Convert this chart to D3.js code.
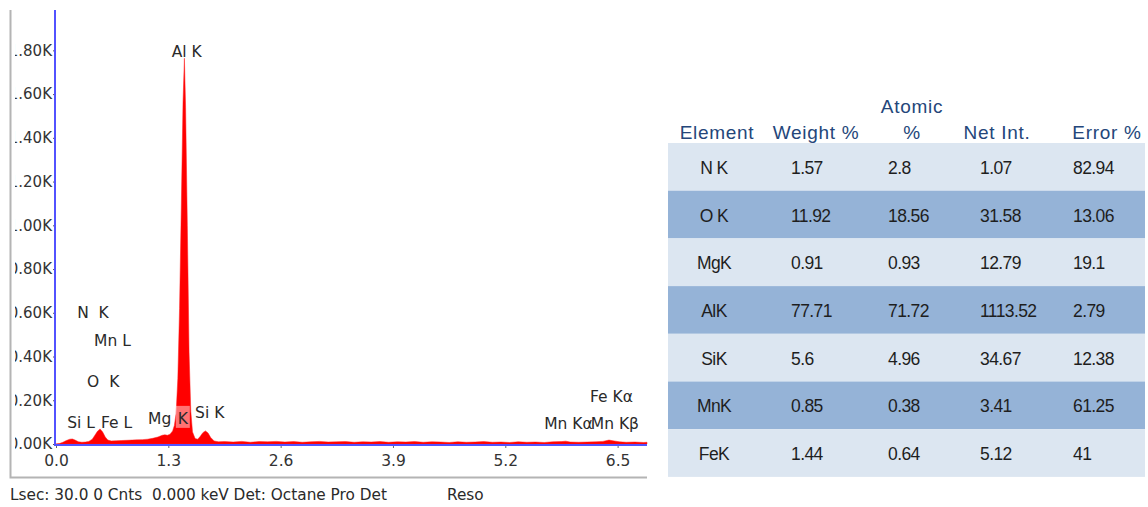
<!DOCTYPE html>
<html>
<head>
<meta charset="utf-8">
<script src="https://cdn.jsdelivr.net/npm/d3@7/dist/d3.min.js"></script>
<style>
  html, body { margin: 0; padding: 0; background: #fff; }
  svg { display: block; }
</style>
</head>
<body>
<svg id="chart" width="1148" height="507"></svg>
<script>
// EDS spectrum: energy (keV) and counts
const energy = [
  0.00, 0.04, 0.08, 0.12, 0.16, 0.19, 0.22, 0.26, 0.30, 0.34, 0.38, 0.42, 0.45, 0.48, 0.51,
  0.54, 0.57, 0.60, 0.64, 0.70, 0.76, 0.82, 0.88, 0.94, 1.00, 1.06, 1.12, 1.18, 1.23, 1.26,
  1.29, 1.32, 1.35, 1.37, 1.39, 1.41, 1.43, 1.45, 1.47, 1.486, 1.50, 1.52, 1.54, 1.56, 1.58,
  1.61, 1.64, 1.67, 1.70, 1.73, 1.76, 1.79, 1.83, 1.88, 1.95, 2.05, 2.15, 2.25, 2.35, 2.45,
  2.55, 2.65, 2.75, 2.85, 2.95, 3.05, 3.15, 3.25, 3.35, 3.45, 3.55, 3.65, 3.75, 3.85, 3.95,
  4.05, 4.15, 4.25, 4.35, 4.45, 4.55, 4.65, 4.75, 4.85, 4.95, 5.05, 5.15, 5.25, 5.35, 5.45,
  5.55, 5.65, 5.75, 5.85, 5.90, 5.95, 6.05, 6.15, 6.25, 6.33, 6.40, 6.46, 6.52, 6.60, 6.70,
  6.80, 6.84
];
const counts = [
  0, 2, 8, 16, 22, 23, 18, 10, 8, 9, 12, 22, 40, 58, 69,
  55, 32, 18, 14, 15, 16, 17, 18, 19, 20, 22, 26, 32, 40, 42,
  40, 45, 60, 85, 140, 300, 620, 1080, 1560, 1764, 1540, 1000, 420, 150, 55,
  25, 22, 35, 52, 60, 50, 30, 14, 10, 11, 9, 12, 8, 11, 10,
  12, 9, 11, 8, 10, 12, 9, 10, 11, 8, 10, 9, 11, 8, 10,
  9, 11, 8, 10, 9, 7, 10, 8, 9, 11, 8, 9, 7, 10, 8,
  9, 7, 10, 11, 13, 9, 8, 9, 10, 12, 18, 14, 10, 8, 9,
  7, 8
];

// Axis ticks
const xTicks = [0, 1.3, 2.6, 3.9, 5.2, 6.5];
const yTicks = [0, 200, 400, 600, 800, 1000, 1200, 1400, 1600, 1800];

// Line identification labels: text, energy anchor, label height (counts) for the baseline
const peakLabels = ["Al K", "N  K", "Mn L", "O  K", "Si L", "Fe L", "Mg", "K", "Si K", "Fe K\u03b1", "Mn K\u03b1", "Mn K\u03b2"];
const peakLabelKeV = [1.34, 0.245, 0.44, 0.36, 0.13, 0.52, 1.065, 1.41, 1.61, 6.18, 5.65, 6.19];
const peakLabelCounts = [1770, 575, 450, 260, 73, 73, 92, 92, 120, 192, 68, 68];

// Quantification table
const elements = ["N K", "O K", "MgK", "AlK", "SiK", "MnK", "FeK"];
const weightPct = ["1.57", "11.92", "0.91", "77.71", "5.6", "0.85", "1.44"];
const atomicPct = ["2.8", "18.56", "0.93", "71.72", "4.96", "0.38", "0.64"];
const netInt = ["1.07", "31.58", "12.79", "1113.52", "34.67", "3.41", "5.12"];
const errorPct = ["82.94", "13.06", "19.1", "2.79", "12.38", "61.25", "41"];

const svg = d3.select("#chart");
const chartFont = "'DejaVu Sans', Verdana, sans-serif";

const x = d3.scaleLinear().domain([0, 6.84]).range([56, 647]);
const y = d3.scaleLinear().domain([0, 1980]).range([444, 11]);

// Outer frame (left and bottom)
svg.append("path")
  .attr("d", "M10.5,10 V477.5 H647")
  .attr("fill", "none").attr("stroke", "#b4b4b4").attr("stroke-width", 2);

// Spectrum area
const spectrum = energy.map((e, i) => [e, counts[i]]);
svg.append("path")
  .datum(spectrum)
  .attr("fill", "#ff0000")
  .attr("stroke", "#ff1a1a")
  .attr("stroke-width", 0.5)
  .attr("d", d3.area().x(d => x(d[0])).y0(y(0)).y1(d => y(d[1])));

// Y axis (labels are cut off by the frame on the left)
const clip = svg.append("defs").append("clipPath").attr("id", "ylab-clip");
clip.append("rect").attr("x", 15 - 55).attr("y", 0).attr("width", 60).attr("height", 470);

const yAxis = svg.append("g")
  .attr("transform", "translate(55,0)")
  .attr("clip-path", "url(#ylab-clip)")
  .call(d3.axisLeft(y).tickValues(yTicks).tickSize(2).tickPadding(1)
    .tickFormat(d => (d / 1000).toFixed(2) + "K"));
yAxis.select(".domain").remove();
yAxis.selectAll("line").attr("stroke", "#555");
yAxis.selectAll("text")
  .attr("font-family", chartFont).attr("font-size", 15).attr("fill", "#333");

// X axis
const xAxis = svg.append("g")
  .attr("transform", "translate(0,445)")
  .call(d3.axisBottom(x).tickValues(xTicks).tickSize(3).tickPadding(7)
    .tickFormat(d3.format(".1f")));
xAxis.select(".domain").remove();
xAxis.selectAll("line").attr("stroke", "#666");
xAxis.selectAll("text")
  .attr("font-family", chartFont).attr("font-size", 15.5).attr("fill", "#333");

// Blue plot axes
svg.append("path")
  .attr("d", "M55,10 V445 H647")
  .attr("fill", "none").attr("stroke", "#5252ff").attr("stroke-width", 2);

// Highlight behind the Mg "K" marker
const kIdx = peakLabels.indexOf("K");
svg.append("rect")
  .attr("x", x(peakLabelKeV[kIdx]) - 2)
  .attr("y", y(peakLabelCounts[kIdx]) - 18)
  .attr("width", 14).attr("height", 22)
  .attr("fill", "#ffffff").attr("opacity", 0.45);

// Peak labels
svg.append("g").selectAll("text")
  .data(peakLabels)
  .join("text")
  .attr("x", (d, i) => x(peakLabelKeV[i]))
  .attr("y", (d, i) => y(peakLabelCounts[i]))
  .attr("font-family", chartFont)
  .attr("font-size", 15.5)
  .attr("fill", "#2a2a2a")
  .style("white-space", "pre")
  .text(d => d);

// Status line
svg.append("text")
  .attr("x", 10).attr("y", 500)
  .attr("font-family", chartFont).attr("font-size", 15.3).attr("fill", "#2a2a2a")
  .style("white-space", "pre")
  .text("Lsec: 30.0 0 Cnts  0.000 keV Det: Octane Pro Det");
svg.append("text")
  .attr("x", 447).attr("y", 500)
  .attr("font-family", chartFont).attr("font-size", 15.3).attr("fill", "#2a2a2a")
  .text("Reso");

// ---- Quantification table ----
const tableFont = "'Liberation Sans', Arial, sans-serif";
const tLeft = 668, tRight = 1145, tTop = 143, rowH = 47.7;
const rowBand = d3.scaleBand().domain(d3.range(elements.length))
  .range([tTop, tTop + rowH * elements.length]).padding(0);

const table = svg.append("g");
table.selectAll("rect")
  .data(elements)
  .join("rect")
  .attr("x", tLeft).attr("width", tRight - tLeft)
  .attr("y", (d, i) => rowBand(i)).attr("height", rowBand.bandwidth())
  .attr("fill", (d, i) => i % 2 === 0 ? "#dce6f1" : "#95b3d7");

// Header
const headers = [
  { lines: ["Element"], cx: 717 },
  { lines: ["Weight %"], cx: 816 },
  { lines: ["Atomic", "%"], cx: 912 },
  { lines: ["Net Int."], cx: 997 },
  { lines: ["Error %"], cx: 1107 }
];
headers.forEach(h => {
  h.lines.forEach((ln, j) => {
    table.append("text")
      .attr("x", h.cx)
      .attr("y", 139 - (h.lines.length - 1 - j) * 26)
      .attr("text-anchor", "middle")
      .attr("font-family", tableFont).attr("font-size", 19)
      .attr("letter-spacing", 0.7)
      .attr("fill", "#24467a")
      .text(ln);
  });
});

// Body cells
const columns = [
  { values: elements, x: 714, anchor: "middle" },
  { values: weightPct, x: 791, anchor: "start" },
  { values: atomicPct, x: 888, anchor: "start" },
  { values: netInt, x: 980, anchor: "start" },
  { values: errorPct, x: 1073, anchor: "start" }
];
columns.forEach(col => {
  table.append("g").selectAll("text")
    .data(col.values)
    .join("text")
    .attr("x", col.x)
    .attr("y", (d, i) => rowBand(i) + rowBand.bandwidth() / 2 + 7)
    .attr("text-anchor", col.anchor)
    .attr("font-family", tableFont).attr("font-size", 17.5)
    .attr("letter-spacing", -0.6)
    .attr("fill", "#1e1e1e")
    .style("white-space", "pre")
    .text(d => d);
});
</script>
</body>
</html>
